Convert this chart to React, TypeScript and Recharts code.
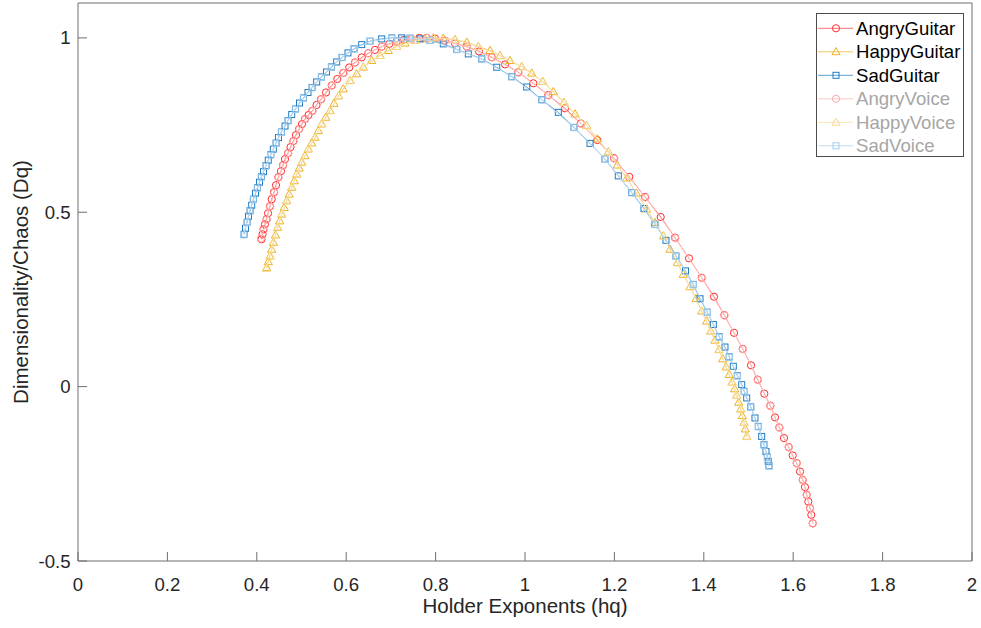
import React from 'react';
import { ComposedChart, Scatter, XAxis, YAxis, Legend } from 'recharts';

// ---------- data ----------
const angryGuitarH = [
  0.4105, 0.4128, 0.4150, 0.4183, 0.4217, 0.4251, 0.4295, 0.4333, 0.4385, 0.4430,
  0.4481, 0.4541, 0.4586, 0.4631, 0.4698, 0.4754, 0.4817, 0.4877, 0.4944, 0.5011,
  0.5078, 0.5157, 0.5242, 0.5336, 0.5436, 0.5548, 0.5676, 0.5801, 0.5935, 0.6069,
  0.6197, 0.6347, 0.6494, 0.6644, 0.6794, 0.6964, 0.7130, 0.7293, 0.7465, 0.7635,
  0.7801, 0.7987, 0.8210, 0.8434, 0.8696, 0.8971, 0.9255, 0.9553, 0.9850, 1.0186,
  1.0521, 1.0895, 1.1246, 1.1617, 1.1991, 1.2333, 1.2685, 1.3036, 1.3356, 1.3669,
  1.3953, 1.4228, 1.4459, 1.4676, 1.4870, 1.5056, 1.5206, 1.5354, 1.5488, 1.5593,
  1.5689, 1.5794, 1.5899, 1.5989, 1.6078, 1.6152, 1.6213, 1.6264, 1.6302, 1.6338,
  1.6376, 1.6405, 1.6436,
];
const angryGuitarD = [
  0.4224, 0.4368, 0.4511, 0.4655, 0.4799, 0.4971, 0.5172, 0.5374, 0.5575, 0.5776,
  0.6006, 0.6178, 0.6351, 0.6523, 0.6695, 0.6868, 0.7040, 0.7213, 0.7385, 0.7529,
  0.7672, 0.7787, 0.7911, 0.8075, 0.8241, 0.8434, 0.8635, 0.8822, 0.8994, 0.9152,
  0.9296, 0.9440, 0.9560, 0.9655, 0.9750, 0.9828, 0.9894, 0.9943, 0.9971, 1.0000,
  1.0000, 0.9980, 0.9922, 0.9842, 0.9750, 0.9612, 0.9445, 0.9239, 0.9014, 0.8698,
  0.8362, 0.7980, 0.7549, 0.7069, 0.6552, 0.6014, 0.5440, 0.4865, 0.4273, 0.3678,
  0.3124, 0.2578, 0.2049, 0.1543, 0.1083, 0.0612, 0.0201, -0.0201, -0.0546, -0.0882,
  -0.1170, -0.1474, -0.1733, -0.1974, -0.2193, -0.2434, -0.2672, -0.2882, -0.3103, -0.3296,
  -0.3486, -0.3678, -0.3917,
];

const happyGuitarH = [
  0.4221, 0.4257, 0.4295, 0.4333, 0.4369, 0.4418, 0.4468, 0.4512, 0.4557, 0.4613,
  0.4669, 0.4725, 0.4781, 0.4837, 0.4893, 0.4949, 0.5004, 0.5078, 0.5152, 0.5228,
  0.5302, 0.5376, 0.5452, 0.5544, 0.5638, 0.5727, 0.5828, 0.5935, 0.6085, 0.6235,
  0.6383, 0.6570, 0.6756, 0.6942, 0.7130, 0.7315, 0.7539, 0.7763, 0.7949, 0.8172,
  0.8434, 0.8696, 0.8955, 0.9217, 0.9441, 0.9664, 0.9926, 1.0150, 1.0396, 1.0633,
  1.0872, 1.1119, 1.1380, 1.1617, 1.1864, 1.2065, 1.2275, 1.2494, 1.2723, 1.2908,
  1.3094, 1.3244, 1.3407, 1.3541, 1.3691, 1.3826, 1.3953, 1.4065, 1.4154, 1.4251,
  1.4340, 1.4423, 1.4497, 1.4570, 1.4631, 1.4691, 1.4736, 1.4781, 1.4826, 1.4861,
  1.4899, 1.4929, 1.4960,
];
const happyGuitarD = [
  0.3411, 0.3578, 0.3744, 0.3937, 0.4129, 0.4345, 0.4560, 0.4750, 0.4943, 0.5135,
  0.5325, 0.5517, 0.5710, 0.5899, 0.6092, 0.6264, 0.6428, 0.6618, 0.6810, 0.6983,
  0.7147, 0.7336, 0.7529, 0.7721, 0.7911, 0.8118, 0.8333, 0.8534, 0.8773, 0.8966,
  0.9158, 0.9348, 0.9491, 0.9635, 0.9750, 0.9848, 0.9922, 0.9971, 1.0000, 0.9986,
  0.9951, 0.9876, 0.9750, 0.9635, 0.9491, 0.9348, 0.9175, 0.8986, 0.8750, 0.8457,
  0.8152, 0.7816, 0.7486, 0.7098, 0.6733, 0.6351, 0.5977, 0.5546, 0.5086, 0.4704,
  0.4319, 0.3937, 0.3555, 0.3218, 0.2865, 0.2520, 0.2164, 0.1876, 0.1589, 0.1330,
  0.1063, 0.0796, 0.0566, 0.0345, 0.0124, -0.0066, -0.0250, -0.0451, -0.0641, -0.0833,
  -0.1026, -0.1216, -0.1428,
];

const sadGuitarH = [
  0.3714, 0.3747, 0.3781, 0.3814, 0.3848, 0.3886, 0.3926, 0.3971, 0.4016, 0.4060,
  0.4105, 0.4150, 0.4206, 0.4257, 0.4313, 0.4369, 0.4430, 0.4485, 0.4553, 0.4631,
  0.4698, 0.4781, 0.4866, 0.4955, 0.5045, 0.5145, 0.5235, 0.5340, 0.5447, 0.5559,
  0.5671, 0.5787, 0.5906, 0.6040, 0.6174, 0.6347, 0.6532, 0.6794, 0.7018, 0.7242,
  0.7427, 0.7651, 0.7875, 0.8172, 0.8472, 0.8732, 0.9031, 0.9367, 0.9702, 1.0038,
  1.0374, 1.0745, 1.1096, 1.1454, 1.1790, 1.2087, 1.2387, 1.2662, 1.2908, 1.3154,
  1.3378, 1.3591, 1.3765, 1.3915, 1.4078, 1.4213, 1.4347, 1.4474, 1.4570, 1.4660,
  1.4750, 1.4848, 1.4904, 1.4960, 1.5049, 1.5145, 1.5219, 1.5295, 1.5347, 1.5391,
  1.5421, 1.5441, 1.5459,
];
const sadGuitarD = [
  0.4368, 0.4540, 0.4713, 0.4885, 0.5043, 0.5201, 0.5374, 0.5546, 0.5704, 0.5862,
  0.6020, 0.6164, 0.6336, 0.6494, 0.6652, 0.6810, 0.6983, 0.7141, 0.7299, 0.7471,
  0.7629, 0.7802, 0.7960, 0.8132, 0.8276, 0.8434, 0.8578, 0.8736, 0.8879, 0.9023,
  0.9167, 0.9310, 0.9440, 0.9569, 0.9684, 0.9807, 0.9905, 0.9971, 1.0000, 1.0000,
  0.9991, 0.9971, 0.9928, 0.9828, 0.9670, 0.9540, 0.9397, 0.9158, 0.8888, 0.8592,
  0.8227, 0.7865, 0.7434, 0.6974, 0.6523, 0.6043, 0.5566, 0.5106, 0.4655, 0.4195,
  0.3744, 0.3319, 0.2931, 0.2520, 0.2135, 0.1782, 0.1428, 0.1135, 0.0853, 0.0583,
  0.0316, 0.0057, -0.0135, -0.0325, -0.0583, -0.0899, -0.1141, -0.1428, -0.1667, -0.1859,
  -0.2020, -0.2141, -0.2270,
];

const angryVoiceH = [
  0.4090, 0.4155, 0.4225, 0.4300, 0.4392, 0.4488, 0.4592, 0.4705, 0.4825, 0.4952,
  0.5085, 0.5250, 0.5445, 0.5685, 0.5945, 0.6205, 0.6502, 0.6802, 0.7138, 0.7472,
  0.7808, 0.8218, 0.8705, 0.9262, 0.9858, 1.0530, 1.1255, 1.2000, 1.2695, 1.3365,
  1.3960, 1.4465, 1.4876, 1.5212, 1.5493, 1.5694, 1.5903, 1.6082, 1.6217, 1.6305,
  1.6379, 1.6439,
];
const angryVoiceD = [
  0.4250, 0.4490, 0.4790, 0.5160, 0.5560, 0.5990, 0.6340, 0.6690, 0.7030, 0.7380,
  0.7665, 0.7905, 0.8235, 0.8630, 0.8990, 0.9290, 0.9555, 0.9748, 0.9892, 0.9970,
  0.9998, 0.9918, 0.9742, 0.9436, 0.9002, 0.8348, 0.7535, 0.6535, 0.5420, 0.4255,
  0.3108, 0.2035, 0.1070, 0.0188, -0.0560, -0.1182, -0.1745, -0.2205, -0.2685, -0.3115,
  -0.3498, -0.3930,
];

const happyVoiceH = [
  0.4210, 0.4300, 0.4374, 0.4473, 0.4562, 0.4674, 0.4786, 0.4898, 0.5009, 0.5157,
  0.5307, 0.5457, 0.5643, 0.5833, 0.6090, 0.6388, 0.6761, 0.7135, 0.7544, 0.7954,
  0.8439, 0.8960, 0.9446, 0.9931, 1.0401, 1.0877, 1.1385, 1.1869, 1.2280, 1.2728,
  1.3099, 1.3412, 1.3696, 1.3958, 1.4159, 1.4345, 1.4502, 1.4636, 1.4741, 1.4831,
  1.4904, 1.4965,
];
const happyVoiceD = [
  0.3390, 0.3760, 0.4145, 0.4575, 0.4958, 0.5340, 0.5725, 0.6105, 0.6440, 0.6822,
  0.7158, 0.7540, 0.7920, 0.8340, 0.8780, 0.9165, 0.9495, 0.9752, 0.9924, 0.9999,
  0.9950, 0.9748, 0.9488, 0.9170, 0.8744, 0.8145, 0.7478, 0.6725, 0.5970, 0.5078,
  0.4310, 0.3545, 0.2856, 0.2155, 0.1580, 0.1055, 0.0558, 0.0116, -0.0258, -0.0648,
  -0.1033, -0.1436,
];

const sadVoiceH = [
  0.3705, 0.3775, 0.3842, 0.3920, 0.4010, 0.4098, 0.4200, 0.4307, 0.4424, 0.4546,
  0.4692, 0.4860, 0.5039, 0.5230, 0.5442, 0.5666, 0.5900, 0.6168, 0.6526, 0.7012,
  0.7432, 0.7880, 0.8478, 0.9037, 0.9708, 1.0380, 1.1102, 1.1796, 1.2393, 1.2914,
  1.3384, 1.3771, 1.4084, 1.4353, 1.4576, 1.4756, 1.4910, 1.5055, 1.5225, 1.5352,
  1.5426, 1.5463,
];
const sadVoiceD = [
  0.4350, 0.4700, 0.5030, 0.5360, 0.5690, 0.6005, 0.6320, 0.6638, 0.6968, 0.7285,
  0.7615, 0.7945, 0.8262, 0.8565, 0.8868, 0.9155, 0.9430, 0.9675, 0.9898, 0.9995,
  0.9988, 0.9922, 0.9662, 0.9388, 0.8880, 0.8218, 0.7425, 0.6512, 0.5555, 0.4645,
  0.3732, 0.2920, 0.2122, 0.1415, 0.0840, 0.0302, -0.0148, -0.0598, -0.1155, -0.1682,
  -0.2035, -0.2280,
];

const xTicks = [0, 0.2, 0.4, 0.6, 0.8, 1, 1.2, 1.4, 1.6, 1.8, 2];
const yTicks = [-0.5, 0, 0.5, 1];
const seriesNames = ['AngryGuitar', 'HappyGuitar', 'SadGuitar', 'AngryVoice', 'HappyVoice', 'SadVoice'];

// ---------- styling ----------
const FONT = '"Liberation Sans", Arial, Helvetica, sans-serif';
const AXIS = '#6e6e6e';
const TEXT = '#262626';

type Kind = 'circle' | 'triangle' | 'square';
const kinds: Kind[] = ['circle', 'triangle', 'square', 'circle', 'triangle', 'square'];
const markerColors = ['#FF2B2B', '#EDB120', '#1F7CC4', '#FFA9A9', '#F6D98E', '#A3CDEE'];
const lineColors = ['#FF7070', '#F2C760', '#5AA2D8', '#FFC6C6', '#F8E4B0', '#BFDCF3'];
const legendText = ['#000000', '#000000', '#000000', '#A6A6A6', '#A6A6A6', '#A6A6A6'];

const zip = (h: number[], d: number[]) => h.map((x, i) => ({ h: x, d: d[i] }));
const seriesData = [
  zip(angryGuitarH, angryGuitarD),
  zip(happyGuitarH, happyGuitarD),
  zip(sadGuitarH, sadGuitarD),
  zip(angryVoiceH, angryVoiceD),
  zip(happyVoiceH, happyVoiceD),
  zip(sadVoiceH, sadVoiceD),
];

const Marker = ({ kind, cx, cy, color }: { kind: Kind; cx: number; cy: number; color: string }) => {
  if (kind === 'circle') return <circle cx={cx} cy={cy} r={3.6} fill="none" stroke={color} strokeWidth={1} />;
  if (kind === 'triangle')
    return (
      <polygon
        points={`${cx},${cy - 4.3} ${cx + 4.1},${cy + 2.9} ${cx - 4.1},${cy + 2.9}`}
        fill="none"
        stroke={color}
        strokeWidth={1}
      />
    );
  return <rect x={cx - 3} y={cy - 3} width={6} height={6} fill="none" stroke={color} strokeWidth={1} />;
};

const makeShape = (kind: Kind, color: string) => (props: any) => {
  const { cx, cy } = props;
  if (cx == null || cy == null) return <g />;
  return <Marker kind={kind} cx={cx} cy={cy} color={color} />;
};

const XTitle = () => (
  <text x={525} y={612.5} textAnchor="middle" fontSize={20.5} fill={TEXT} fontFamily={FONT}>
    Holder Exponents (hq)
  </text>
);

const YTitle = () => (
  <text
    x={27.5}
    y={282}
    transform="rotate(-90, 27.5, 282)"
    textAnchor="middle"
    fontSize={20.5}
    fill={TEXT}
    fontFamily={FONT}
  >
    Dimensionality/Chaos (Dq)
  </text>
);

const LegendBox = () => (
  <svg width={148} height={144} style={{ display: 'block' }}>
    <rect x={0.5} y={0.5} width={147} height={143} fill="#ffffff" stroke="#4a4a4a" strokeWidth={1} />
    {seriesNames.map((name, i) => {
      const cy = 15.3 + i * 23.5;
      return (
        <g key={name}>
          <line x1={2} x2={37} y1={cy} y2={cy} stroke={lineColors[i]} strokeWidth={1} />
          <Marker kind={kinds[i]} cx={20} cy={cy} color={markerColors[i]} />
          <text x={40} y={cy + 6.6} fontSize={18.6} fontFamily={FONT} fill={legendText[i]}>
            {name}
          </text>
        </g>
      );
    })}
  </svg>
);

export default function App() {
  return (
    <div style={{ position: 'absolute', left: 0, top: 0, width: 981, height: 628, background: '#ffffff' }}>
      <ComposedChart width={981} height={628} margin={{ top: 2, right: 8, bottom: 0, left: 0 }}>
        <XAxis
          xAxisId="b"
          type="number"
          dataKey="h"
          domain={[0, 2]}
          ticks={xTicks}
          interval={0}
          allowDataOverflow
          height={67}
          tickSize={-9}
          tickMargin={25.5}
          stroke={AXIS}
          tick={{ fill: TEXT, fontSize: 18.6, fontFamily: FONT }}
          label={XTitle}
        />
        <XAxis
          xAxisId="t"
          orientation="top"
          type="number"
          domain={[0, 2]}
          ticks={xTicks}
          interval={0}
          allowDataOverflow
          height={1}
          tickSize={-9}
          tick={false}
          stroke={AXIS}
        />
        <YAxis
          yAxisId="l"
          type="number"
          dataKey="d"
          domain={[-0.5, 1.1]}
          ticks={yTicks}
          interval={0}
          allowDataOverflow
          width={78}
          tickSize={-9}
          tickMargin={16.5}
          stroke={AXIS}
          tick={{ fill: TEXT, fontSize: 18.6, fontFamily: FONT }}
          label={YTitle}
        />
        <YAxis
          yAxisId="r"
          orientation="right"
          type="number"
          domain={[-0.5, 1.1]}
          ticks={yTicks}
          interval={0}
          allowDataOverflow
          width={1}
          tickSize={-9}
          tick={false}
          stroke={AXIS}
        />
        {seriesData.map((data, i) => (
          <Scatter
            key={seriesNames[i]}
            name={seriesNames[i]}
            data={data}
            xAxisId="b"
            yAxisId="l"
            fill={markerColors[i]}
            line={{ stroke: lineColors[i], strokeWidth: 1 }}
            lineType="joint"
            shape={makeShape(kinds[i], markerColors[i])}
            isAnimationActive={false}
          />
        ))}
        <Legend
          content={LegendBox}
          layout="vertical"
          align="center"
          verticalAlign="middle"
          wrapperStyle={{ position: 'absolute', left: 816, top: 13, width: 148, height: 144 }}
        />
      </ComposedChart>
    </div>
  );
}
